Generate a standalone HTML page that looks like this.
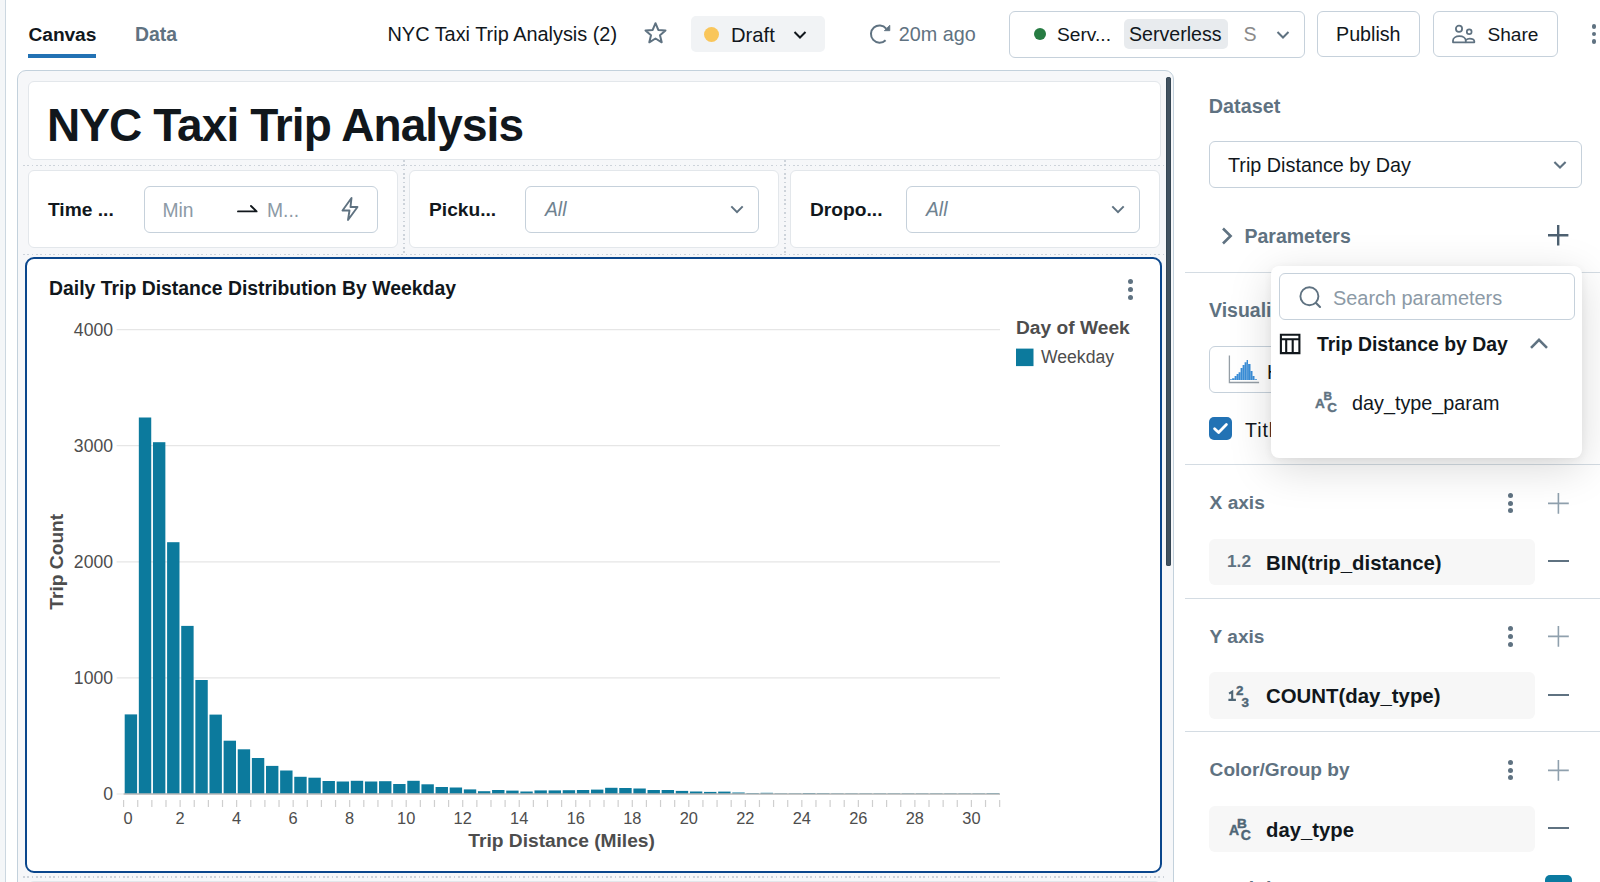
<!DOCTYPE html>
<html><head><meta charset="utf-8">
<style>
*{box-sizing:border-box;margin:0;padding:0}
html,body{width:1600px;height:882px;overflow:hidden;background:#fff;font-family:"Liberation Sans",sans-serif;color:#11171c}
.a{position:absolute}
.t{position:absolute;white-space:nowrap;line-height:1}
.b{font-weight:700}
.mut{color:#5f7281}
.ph{color:#8c9aa6}
.box{position:absolute;border:1.5px solid #c6d1db;border-radius:6px;background:#fff}
svg{position:absolute;overflow:visible}
</style></head><body>

<!-- left strip -->
<div class="a" style="left:0;top:0;width:6px;height:882px;background:#f4f6f8;border-right:1.5px solid #ccd7e0"></div>

<!-- ===== TOP BAR ===== -->
<div class="t b" style="left:28.6px;top:25.4px;font-size:19.2px;letter-spacing:-0.1px">Canvas</div>
<div class="a" style="left:28px;top:53.5px;width:68px;height:4.2px;background:#2272b4"></div>
<div class="t b mut" style="left:135px;top:24.6px;font-size:19.4px">Data</div>

<div class="t" style="left:387.5px;top:25.2px;font-size:19.9px">NYC Taxi Trip Analysis (2)</div>
<!-- star -->
<svg style="left:643px;top:21px" width="25" height="24" viewBox="0 0 25 24"><path d="M12.5 2.2 L15.3 8.9 L22.5 9.5 L17 14.2 L18.7 21.3 L12.5 17.5 L6.3 21.3 L8 14.2 L2.5 9.5 L9.7 8.9 Z" fill="none" stroke="#5f7281" stroke-width="2" stroke-linejoin="round"/></svg>

<!-- draft pill -->
<div class="a" style="left:691px;top:16px;width:134px;height:35.5px;background:#f1f3f5;border-radius:5px"></div>
<div class="a" style="left:704.1px;top:26.9px;width:15px;height:15px;border-radius:50%;background:#f9c65b"></div>
<div class="t" style="left:731px;top:25.3px;font-size:20.2px">Draft</div>
<svg style="left:792px;top:29px" width="16" height="12" viewBox="0 0 16 12"><path d="M2.5 3 L8 8.5 L13.5 3" fill="none" stroke="#11171c" stroke-width="2"/></svg>

<!-- refresh -->
<svg style="left:868px;top:22px" width="24" height="24" viewBox="0 0 24 24"><path d="M17.6 18.2 A8.6 8.6 0 1 1 18.2 6.6" fill="none" stroke="#5f7281" stroke-width="2"/><path d="M21.8 3.2 V8.7 H16.3 Z" fill="#5f7281" stroke="#5f7281" stroke-width="0.8" stroke-linejoin="round"/></svg>
<div class="t mut" style="left:898.8px;top:25.2px;font-size:19.8px">20m ago</div>

<!-- serverless -->
<div class="box" style="left:1008.5px;top:10.5px;width:296px;height:47px"></div>
<div class="a" style="left:1033.6px;top:28px;width:12px;height:12px;border-radius:50%;background:#277c43"></div>
<div class="t" style="left:1057px;top:25.4px;font-size:19.2px">Serv...</div>
<div class="a" style="left:1123.6px;top:19.4px;width:104.4px;height:29.2px;background:#e8ebee;border-radius:5px"></div>
<div class="t" style="left:1129px;top:25.4px;font-size:19.6px">Serverless</div>
<div class="t" style="left:1243.5px;top:25.4px;font-size:19.6px;color:#8a8a8a">S</div>
<svg style="left:1275px;top:29px" width="16" height="12" viewBox="0 0 16 12"><path d="M2.5 3 L8 8.5 L13.5 3" fill="none" stroke="#5f7281" stroke-width="2"/></svg>

<!-- publish / share -->
<div class="box" style="left:1317px;top:10.7px;width:103px;height:46px"></div>
<div class="t" style="left:1336px;top:25.4px;font-size:19.7px">Publish</div>
<div class="box" style="left:1433px;top:10.7px;width:125px;height:46px"></div>
<svg style="left:1451px;top:23.6px" width="26" height="21" viewBox="0 0 26 21"><circle cx="8" cy="4.8" r="3.1" fill="none" stroke="#5f7281" stroke-width="1.8"/><circle cx="18.2" cy="7.7" r="2.4" fill="none" stroke="#5f7281" stroke-width="1.7"/><path d="M2 18.3V16.6C2 13.9 4.9 12.2 8.4 12.2C11.9 12.2 14.8 13.9 14.8 17V18.3Z" fill="none" stroke="#5f7281" stroke-width="1.8" stroke-linejoin="round"/><path d="M14.8 16.1C15.9 15.1 17.1 14.6 18.8 14.6C21.2 14.6 23.3 15.8 23.3 17.2V18.3H14.8" fill="none" stroke="#5f7281" stroke-width="1.8" stroke-linejoin="round"/></svg>
<div class="t" style="left:1487.5px;top:25.4px;font-size:19.1px">Share</div>
<div class="a" style="left:1591.8px;top:24px;width:4.6px;height:4.6px;border-radius:50%;background:#5f7281"></div>
<div class="a" style="left:1591.8px;top:31.5px;width:4.6px;height:4.6px;border-radius:50%;background:#5f7281"></div>
<div class="a" style="left:1591.8px;top:39.3px;width:4.6px;height:4.6px;border-radius:50%;background:#5f7281"></div>

<!-- ===== CANVAS FRAME ===== -->
<div class="a" style="left:17px;top:70px;width:1157px;height:830px;background:#f6f7f9;border:1.5px solid #c3d1dc;border-radius:9px"></div>


<!-- dotted grid -->
<div class="a" style="left:23px;top:164.75px;width:1143px;height:1.5px;background:repeating-linear-gradient(90deg,#cdd3da 0 1.6px,transparent 1.6px 4.35px)"></div>
<div class="a" style="left:23px;top:253.55px;width:1143px;height:1.5px;background:repeating-linear-gradient(90deg,#cdd3da 0 1.6px,transparent 1.6px 4.35px)"></div>
<div class="a" style="left:23px;top:876.45px;width:1143px;height:1.5px;background:repeating-linear-gradient(90deg,#cdd3da 0 1.6px,transparent 1.6px 4.35px)"></div>
<div class="a" style="left:403.25px;top:160px;width:1.5px;height:96px;background:repeating-linear-gradient(180deg,#cdd3da 0 1.6px,transparent 1.6px 4.35px)"></div>
<div class="a" style="left:784.25px;top:160px;width:1.5px;height:96px;background:repeating-linear-gradient(180deg,#cdd3da 0 1.6px,transparent 1.6px 4.35px)"></div>
<!-- CARDS -->
<div class="a" style="left:27.5px;top:81px;width:1133px;height:78.5px;background:#fff;border:1px solid #e3e7eb;border-radius:6px"></div>
<div class="t b" style="left:47px;top:101.6px;font-size:46px;letter-spacing:-0.9px">NYC Taxi Trip Analysis</div>


<!-- FILTER CARDS -->
<div class="a" style="left:27.5px;top:170px;width:370px;height:78px;background:#fff;border:1px solid #e3e7eb;border-radius:6px"></div>
<div class="a" style="left:408.5px;top:170px;width:370px;height:78px;background:#fff;border:1px solid #e3e7eb;border-radius:6px"></div>
<div class="a" style="left:789.5px;top:170px;width:370.5px;height:78px;background:#fff;border:1px solid #e3e7eb;border-radius:6px"></div>

<div class="t b" style="left:48px;top:199.6px;font-size:19.2px">Time ...</div>
<div class="box" style="left:144px;top:185.5px;width:233.5px;height:47px"></div>
<div class="t ph" style="left:162.5px;top:200.8px;font-size:19.3px">Min</div>
<svg style="left:236px;top:205px" width="24" height="12" viewBox="0 0 24 12"><path d="M2 6.4 H20.6 L15 1" fill="none" stroke="#11171c" stroke-width="1.9" stroke-linejoin="round" stroke-linecap="round"/></svg>
<div class="t ph" style="left:267px;top:200.8px;font-size:19.3px">M...</div>
<svg style="left:338px;top:196px" width="24" height="26" viewBox="0 0 24 26"><path d="M13.5 2 L4.5 14.5 H11.5 L10 24 L19.5 11 H12.5 Z" fill="none" stroke="#5f7281" stroke-width="1.9" stroke-linejoin="round"/></svg>

<div class="t b" style="left:429px;top:199.6px;font-size:19.2px">Picku...</div>
<div class="box" style="left:525px;top:185.5px;width:234px;height:47px"></div>
<div class="t ph" style="left:545px;top:199.9px;font-size:19.3px;font-style:italic;color:#6f8290">All</div>
<svg style="left:729px;top:203px" width="16" height="12" viewBox="0 0 16 12"><path d="M2.3 3.4 L8 9.1 L13.7 3.4" fill="none" stroke="#5f7281" stroke-width="2"/></svg>

<div class="t b" style="left:810px;top:199.6px;font-size:19.2px">Dropo...</div>
<div class="box" style="left:906px;top:185.5px;width:234px;height:47px"></div>
<div class="t ph" style="left:926px;top:199.9px;font-size:19.3px;font-style:italic;color:#6f8290">All</div>
<svg style="left:1110px;top:203px" width="16" height="12" viewBox="0 0 16 12"><path d="M2.3 3.4 L8 9.1 L13.7 3.4" fill="none" stroke="#5f7281" stroke-width="2"/></svg>

<!-- CHART CARD -->
<div class="a" style="left:25px;top:256.5px;width:1137px;height:616px;background:#fff;border:2.7px solid #0a468c;border-radius:9px"></div>
<div class="t b" style="left:49px;top:278.9px;font-size:19.4px">Daily Trip Distance Distribution By Weekday</div>
<div class="a" style="left:1127.5px;top:278.5px;width:5px;height:5px;border-radius:50%;background:#5f7281"></div>
<div class="a" style="left:1127.5px;top:286.5px;width:5px;height:5px;border-radius:50%;background:#5f7281"></div>
<div class="a" style="left:1127.5px;top:294.5px;width:5px;height:5px;border-radius:50%;background:#5f7281"></div>

<svg style="left:0;top:0" width="1200" height="882" viewBox="0 0 1200 882">
<path d="M116.6 794.00H1000M116.6 677.90H1000M116.6 561.80H1000M116.6 445.70H1000M116.6 329.60H1000" stroke="#e6e6e6" stroke-width="1.2" fill="none"/>
<g fill="#0c7a9d"><rect x="124.70" y="714.40" width="12.4" height="79.60"/><rect x="138.83" y="417.50" width="12.4" height="376.50"/><rect x="152.96" y="442.20" width="12.4" height="351.80"/><rect x="167.09" y="542.20" width="12.4" height="251.80"/><rect x="181.22" y="625.90" width="12.4" height="168.10"/><rect x="195.35" y="680.00" width="12.4" height="114.00"/><rect x="209.48" y="714.60" width="12.4" height="79.40"/><rect x="223.61" y="740.70" width="12.4" height="53.30"/><rect x="237.74" y="749.30" width="12.4" height="44.70"/><rect x="251.87" y="758.00" width="12.4" height="36.00"/><rect x="266.00" y="765.90" width="12.4" height="28.10"/><rect x="280.13" y="770.50" width="12.4" height="23.50"/><rect x="294.26" y="776.80" width="12.4" height="17.20"/><rect x="308.39" y="777.70" width="12.4" height="16.30"/><rect x="322.52" y="781.00" width="12.4" height="13.00"/><rect x="336.65" y="781.50" width="12.4" height="12.50"/><rect x="350.78" y="780.80" width="12.4" height="13.20"/><rect x="364.91" y="781.50" width="12.4" height="12.50"/><rect x="379.04" y="781.20" width="12.4" height="12.80"/><rect x="393.17" y="784.00" width="12.4" height="10.00"/><rect x="407.30" y="780.80" width="12.4" height="13.20"/><rect x="421.43" y="784.30" width="12.4" height="9.70"/><rect x="435.56" y="787.00" width="12.4" height="7.00"/><rect x="449.69" y="787.50" width="12.4" height="6.50"/><rect x="463.82" y="789.40" width="12.4" height="4.60"/><rect x="477.95" y="791.20" width="12.4" height="2.80"/><rect x="492.08" y="790.00" width="12.4" height="4.00"/><rect x="506.21" y="790.60" width="12.4" height="3.40"/><rect x="520.34" y="791.50" width="12.4" height="2.50"/><rect x="534.47" y="790.40" width="12.4" height="3.60"/><rect x="548.60" y="790.40" width="12.4" height="3.60"/><rect x="562.73" y="790.20" width="12.4" height="3.80"/><rect x="576.86" y="790.00" width="12.4" height="4.00"/><rect x="590.99" y="789.60" width="12.4" height="4.40"/><rect x="605.12" y="787.80" width="12.4" height="6.20"/><rect x="619.25" y="788.00" width="12.4" height="6.00"/><rect x="633.38" y="788.50" width="12.4" height="5.50"/><rect x="647.51" y="790.00" width="12.4" height="4.00"/><rect x="661.64" y="790.00" width="12.4" height="4.00"/><rect x="675.77" y="790.90" width="12.4" height="3.10"/><rect x="689.90" y="791.50" width="12.4" height="2.50"/><rect x="704.03" y="791.90" width="12.4" height="2.10"/><rect x="718.16" y="791.60" width="12.4" height="2.40"/><rect x="732.29" y="792.50" width="12.4" height="1.50"/><rect x="746.42" y="793.10" width="12.4" height="0.90"/><rect x="760.55" y="792.80" width="12.4" height="1.20"/><rect x="774.68" y="793.40" width="12.4" height="0.60"/><rect x="788.81" y="793.40" width="12.4" height="0.60"/><rect x="802.94" y="793.00" width="12.4" height="1.00"/><rect x="817.07" y="793.20" width="12.4" height="0.80"/><rect x="831.20" y="793.40" width="12.4" height="0.60"/><rect x="845.33" y="793.40" width="12.4" height="0.60"/><rect x="859.46" y="793.40" width="12.4" height="0.60"/><rect x="873.59" y="793.40" width="12.4" height="0.60"/><rect x="887.72" y="793.40" width="12.4" height="0.60"/><rect x="901.85" y="793.40" width="12.4" height="0.60"/><rect x="915.98" y="793.40" width="12.4" height="0.60"/><rect x="930.11" y="793.40" width="12.4" height="0.60"/><rect x="944.24" y="793.40" width="12.4" height="0.60"/><rect x="958.37" y="793.40" width="12.4" height="0.60"/><rect x="972.50" y="793.40" width="12.4" height="0.60"/><rect x="986.63" y="793.20" width="12.4" height="0.80"/></g>
<path d="M123.6 794H1000" stroke="#b8b8b8" stroke-width="1.4"/>
<path d="M123.60 800V807M137.73 800V807M151.86 800V807M165.99 800V807M180.12 800V807M194.25 800V807M208.38 800V807M222.51 800V807M236.64 800V807M250.77 800V807M264.90 800V807M279.03 800V807M293.16 800V807M307.29 800V807M321.42 800V807M335.55 800V807M349.68 800V807M363.81 800V807M377.94 800V807M392.07 800V807M406.20 800V807M420.33 800V807M434.46 800V807M448.59 800V807M462.72 800V807M476.85 800V807M490.98 800V807M505.11 800V807M519.24 800V807M533.37 800V807M547.50 800V807M561.63 800V807M575.76 800V807M589.89 800V807M604.02 800V807M618.15 800V807M632.28 800V807M646.41 800V807M660.54 800V807M674.67 800V807M688.80 800V807M702.93 800V807M717.06 800V807M731.19 800V807M745.32 800V807M759.45 800V807M773.58 800V807M787.71 800V807M801.84 800V807M815.97 800V807M830.10 800V807M844.23 800V807M858.36 800V807M872.49 800V807M886.62 800V807M900.75 800V807M914.88 800V807M929.01 800V807M943.14 800V807M957.27 800V807M971.40 800V807M985.53 800V807M999.66 800V807" stroke="#cfcfcf" stroke-width="1.2"/>
<g font-family="Liberation Sans" font-size="16.4" fill="#4d4d4d"><text x="123.60" y="823.6" text-anchor="start">0</text><text x="180.12" y="823.6" text-anchor="middle">2</text><text x="236.64" y="823.6" text-anchor="middle">4</text><text x="293.16" y="823.6" text-anchor="middle">6</text><text x="349.68" y="823.6" text-anchor="middle">8</text><text x="406.20" y="823.6" text-anchor="middle">10</text><text x="462.72" y="823.6" text-anchor="middle">12</text><text x="519.24" y="823.6" text-anchor="middle">14</text><text x="575.76" y="823.6" text-anchor="middle">16</text><text x="632.28" y="823.6" text-anchor="middle">18</text><text x="688.80" y="823.6" text-anchor="middle">20</text><text x="745.32" y="823.6" text-anchor="middle">22</text><text x="801.84" y="823.6" text-anchor="middle">24</text><text x="858.36" y="823.6" text-anchor="middle">26</text><text x="914.88" y="823.6" text-anchor="middle">28</text><text x="971.40" y="823.6" text-anchor="middle">30</text></g>
<g font-family="Liberation Sans" font-size="17.6" fill="#4d4d4d"><text x="113" y="800.30" text-anchor="end">0</text><text x="113" y="684.20" text-anchor="end">1000</text><text x="113" y="568.10" text-anchor="end">2000</text><text x="113" y="452.00" text-anchor="end">3000</text><text x="113" y="335.90" text-anchor="end">4000</text></g>
<text x="561.65" y="847" text-anchor="middle" font-family="Liberation Sans" font-weight="700" font-size="19.2" fill="#4d4d4d">Trip Distance (Miles)</text>
<text transform="translate(63.4 561.75) rotate(-90)" text-anchor="middle" font-family="Liberation Sans" font-weight="700" font-size="19.2" fill="#4d4d4d">Trip Count</text>
<text x="1016" y="334.3" font-family="Liberation Sans" font-weight="700" font-size="19.2" fill="#4d4d4d">Day of Week</text>
<rect x="1016" y="348.6" width="17.5" height="17.5" fill="#0c7a9d"/>
<text x="1041" y="363.2" font-family="Liberation Sans" font-size="17.6" fill="#4d4d4d">Weekday</text>
</svg>

<div class="a" style="left:27.5px;top:881px;width:1133px;height:20px;background:#fff;border:1px solid #e3e7eb;border-radius:6px"></div>
<!-- scrollbar -->
<div class="a" style="left:1165.9px;top:77px;width:5.3px;height:489px;background:#415260;border-radius:3px;box-shadow:inset 0 0 0 0.6px #2c3e4c"></div>

<!-- ===== RIGHT PANEL ===== -->
<div class="t b mut" style="left:1208.8px;top:96.6px;font-size:19.8px;">Dataset</div>
<div class="box" style="left:1209px;top:141.2px;width:372.6px;height:46.4px"></div>
<div class="t " style="left:1228px;top:156.4px;font-size:19.8px;">Trip Distance by Day</div>
<svg style="left:1552px;top:159px" width="16" height="12" viewBox="0 0 16 12"><path d="M2.4 3 L8 8.6 L13.6 3" fill="none" stroke="#5f7281" stroke-width="2.1"/></svg>
<svg style="left:1218px;top:226px" width="18" height="20" viewBox="0 0 18 20"><path d="M5 2.5 L12.6 10 L5 17.5" fill="none" stroke="#5f7281" stroke-width="2.6"/></svg>
<div class="t b mut" style="left:1244.5px;top:226.6px;font-size:19.5px;">Parameters</div>
<svg style="left:1547.3px;top:224.3px" width="22.4" height="22.4" viewBox="0 0 22.4 22.4"><path d="M1 11.2H21.4M11.2 1V21.4" stroke="#4d6070" stroke-width="2.4" fill="none"/></svg>
<div class="a" style="left:1185px;top:271.8px;width:415px;height:1.3px;background:#d4dce3"></div>
<div class="t b mut" style="left:1209px;top:300.79px;font-size:19.5px;">Visualization</div>
<div class="box" style="left:1209px;top:346px;width:372.6px;height:46.5px"></div>
<svg style="left:1226px;top:354px" width="36" height="32" viewBox="0 0 36 32"><path d="M3.4 1.6V28.5H33.1" fill="none" stroke="#959ea6" stroke-width="1.3"/><path d="M4 25.9V25.3H6V24.2H8.5V22H10.5V20H12.5V18.2H14.5V14.1H16.5V11.1H18.5V8.3H20.5V5.9H22V10H24.5V17.1H26.5V22H28.5V25.3H31V25.9Z" fill="#3a8ed8"/><path d="M6 24V26M8.5 22V26M10.5 20V26M12.5 18V26M14.5 14V26M16.5 11V26M18.5 8V26M20.5 6V26M22 10V26M24.5 17V26M26.5 22V26M28.5 25V26" stroke="#fff" stroke-width="0.5" opacity="0.45"/></svg>
<div class="t " style="left:1267px;top:362.99px;font-size:19.5px;">Histogram</div>
<div class="a" style="left:1209px;top:417px;width:23px;height:23.3px;border-radius:5px;background:#2272b4"></div>
<svg style="left:1209px;top:417px" width="23" height="23" viewBox="0 0 23 23"><path d="M5.6 11.8 L9.6 15.6 L17.4 7.6" fill="none" stroke="#fff" stroke-width="2.8" stroke-linecap="round" stroke-linejoin="round"/></svg>
<div class="t " style="left:1245px;top:420.8px;font-size:19.6px;letter-spacing:0.9px">Title</div>
<div class="a" style="left:1185px;top:463.5px;width:415px;height:1.3px;background:#d4dce3"></div>
<div class="t mut" style="left:1209.6px;top:493.2px;font-size:19.1px;font-weight:700">X axis</div>
<div class="a" style="left:1508.4px;top:492.5px;width:5px;height:5px;border-radius:50%;background:#5f7281"></div><div class="a" style="left:1508.4px;top:500.5px;width:5px;height:5px;border-radius:50%;background:#5f7281"></div><div class="a" style="left:1508.4px;top:508.3px;width:5px;height:5px;border-radius:50%;background:#5f7281"></div>
<svg style="left:1547.0px;top:491.6px" width="22.8" height="22.8" viewBox="0 0 22.8 22.8"><path d="M1 11.4H21.8M11.4 1V21.8" stroke="#8fa0ad" stroke-width="1.6" fill="none"/></svg>
<div class="a" style="left:1209px;top:538.5px;width:325.6px;height:46.8px;border-radius:6px;background:#f7f7f7"></div>
<div class="t b mut" style="left:1227px;top:553.3px;font-size:17.3px;">1.2</div>
<div class="t b" style="left:1266px;top:552.5px;font-size:20.4px;">BIN(trip_distance)</div>
<div class="a" style="left:1548.0px;top:560.4px;width:20.8px;height:2px;background:#5f7281"></div>
<div class="a" style="left:1185px;top:597.5px;width:415px;height:1.3px;background:#d4dce3"></div>
<div class="t mut" style="left:1209.6px;top:626.7px;font-size:19.1px;font-weight:700">Y axis</div>
<div class="a" style="left:1508.4px;top:626.0px;width:5px;height:5px;border-radius:50%;background:#5f7281"></div><div class="a" style="left:1508.4px;top:634.0px;width:5px;height:5px;border-radius:50%;background:#5f7281"></div><div class="a" style="left:1508.4px;top:641.8px;width:5px;height:5px;border-radius:50%;background:#5f7281"></div>
<svg style="left:1547.0px;top:625.1px" width="22.8" height="22.8" viewBox="0 0 22.8 22.8"><path d="M1 11.4H21.8M11.4 1V21.8" stroke="#8fa0ad" stroke-width="1.6" fill="none"/></svg>
<div class="a" style="left:1209px;top:672.0px;width:325.6px;height:46.8px;border-radius:6px;background:#f7f7f7"></div>
<svg style="left:1226px;top:684px" width="28" height="24" viewBox="0 0 28 24"><g fill="none" stroke="#4f6676" stroke-width="2.1"><path d="M6.2 16.9V7.6 L3.1 9.6 M2.4 15.9H9.9"/></g><g fill="#4f6676" stroke="#4f6676" stroke-width="0.4" font-family="Liberation Sans" font-weight="700" font-size="13.4"><text x="10" y="11" >2</text><text x="15.6" y="22.9">3</text></g></svg>
<div class="t b" style="left:1266px;top:686px;font-size:20.4px;">COUNT(day_type)</div>
<div class="a" style="left:1548.0px;top:693.9px;width:20.8px;height:2px;background:#5f7281"></div>
<div class="a" style="left:1185px;top:731.0px;width:415px;height:1.3px;background:#d4dce3"></div>
<div class="t mut" style="left:1209.6px;top:760.2px;font-size:19.1px;font-weight:700">Color/Group by</div>
<div class="a" style="left:1508.4px;top:759.5px;width:5px;height:5px;border-radius:50%;background:#5f7281"></div><div class="a" style="left:1508.4px;top:767.5px;width:5px;height:5px;border-radius:50%;background:#5f7281"></div><div class="a" style="left:1508.4px;top:775.3px;width:5px;height:5px;border-radius:50%;background:#5f7281"></div>
<svg style="left:1547.0px;top:758.6px" width="22.8" height="22.8" viewBox="0 0 22.8 22.8"><path d="M1 11.4H21.8M11.4 1V21.8" stroke="#8fa0ad" stroke-width="1.6" fill="none"/></svg>
<div class="a" style="left:1209px;top:805.5px;width:325.6px;height:46.8px;border-radius:6px;background:#f7f7f7"></div>
<svg style="left:1226px;top:817.5px" width="28" height="24" viewBox="0 0 28 24"><g fill="#4f6676" stroke="#4f6676" stroke-width="0.4" font-family="Liberation Sans" font-weight="700"><text x="2.9" y="17.4" font-size="14">A</text><text x="11" y="10.1" font-size="13.6">B</text><text x="14.8" y="22" font-size="14">C</text></g></svg>
<div class="t b" style="left:1266px;top:819.5px;font-size:20.3px;">day_type</div>
<div class="a" style="left:1548.0px;top:827.4px;width:20.8px;height:2px;background:#5f7281"></div>
<div class="t mut b" style="left:1209px;top:879.5px;font-size:19.5px;">Weekday</div>
<div class="a" style="left:1545px;top:874.6px;width:27px;height:20px;border-radius:5px;background:#0b7aa0"></div>
<div class="a" style="left:1271px;top:266px;width:311px;height:192px;background:#fff;border-radius:8px;box-shadow:0 10px 44px rgba(0,0,0,0.15),0 2px 8px rgba(0,0,0,0.06)"></div>
<div class="box" style="left:1279px;top:273px;width:295.6px;height:46.7px"></div>
<svg style="left:1297px;top:284px" width="26" height="26" viewBox="0 0 26 26"><circle cx="12.4" cy="12.3" r="9" fill="none" stroke="#5f7281" stroke-width="1.9"/><path d="M19 19 L23 23" stroke="#5f7281" stroke-width="2.1" stroke-linecap="round"/></svg>
<div class="t ph" style="left:1333px;top:288.6px;font-size:19.9px;">Search parameters</div>
<svg style="left:1279px;top:333px" width="23" height="23" viewBox="0 0 23 23"><path d="M1.9 1.8H20.4V20.1H1.9Z M1.9 6.2H20.4 M7.2 6.2V20.1 M13.7 6.2V20.1" fill="none" stroke="#11171c" stroke-width="2.1"/></svg>
<div class="t b" style="left:1317px;top:335.28px;font-size:19.4px;">Trip Distance by Day</div>
<svg style="left:1528px;top:335px" width="22" height="16" viewBox="0 0 22 16"><path d="M3 12.8 L11 4.8 L19 12.8" fill="none" stroke="#5f7281" stroke-width="2.6"/></svg>
<svg style="left:1313px;top:389px" width="28" height="24" viewBox="0 0 28 24"><g fill="#5f7281" stroke="#5f7281" stroke-width="0.4" font-family="Liberation Sans" font-weight="700"><text x="2.1" y="18.9" font-size="13.6">A</text><text x="10.4" y="10.5" font-size="11.8">B</text><text x="14.3" y="23.2" font-size="13.4">C</text></g></svg>
<div class="t " style="left:1352px;top:394.24px;font-size:19.8px;">day_type_param</div>

</body></html>
